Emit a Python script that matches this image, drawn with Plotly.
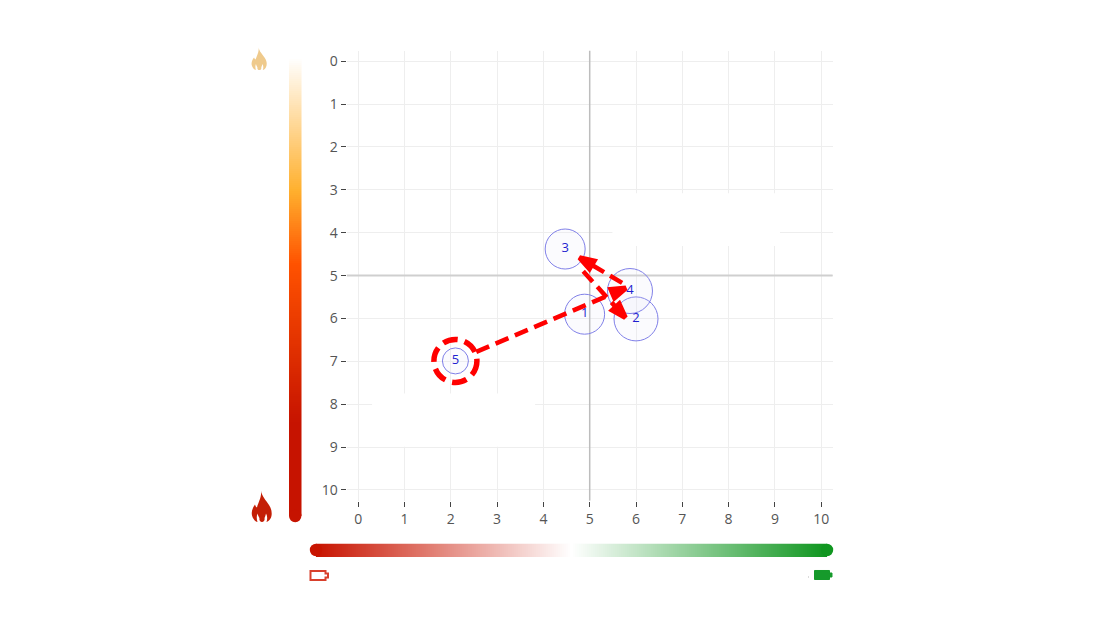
import numpy as np
import plotly.graph_objects as go

# page body has 8px margin, reference coordinates are window pixels
W, H = 1080, 626

punto_labels = ["1", "2", "3", "4", "5"]
punto_x = [4.89, 6.0, 4.47, 5.87, 2.1]
punto_y = [5.9, 6.01, 4.38, 5.36, 6.99]
punto_size = [40, 44, 40, 45, 26]

# arrows: start and tip
arrow_x0 = [2.55, 5.70, 4.86]
arrow_y0 = [6.78, 5.17, 4.9]
arrow_x1 = [5.78, 4.78, 5.77]
arrow_y1 = [5.29, 4.58, 5.98]

tick_vals = list(range(11))

heat_scale = [[0, "#ffffff"], [0.29, "#ffb02e"], [0.45, "#ff5200"], [0.8, "#c61300"], [1, "#c61300"]]
power_scale = [[0, "#c81400"], [0.5, "#ffffff"], [1, "#109620"]]

RED = "#ff0000"
BLUE = "#1f1fd0"


def px(x):
    return (x - 8) / W


def py(y):
    return 1 - (y - 8) / H


def path_from(cmds):
    out = []
    for c in cmds:
        if isinstance(c, str):
            out.append(c)
        else:
            out.append(f"{px(c[0]):.5f},{py(c[1]):.5f}")
    return " ".join(out)


def flame(x0, y0, sx, sy):
    def p(x, y):
        return (x0 + x * sx, y0 + y * sy)

    body = [
        "M", p(10, 0.5),
        "C", p(11, 7), p(15, 10), p(18, 15),
        "C", p(21, 19), p(21.5, 25), p(19.5, 28.5),
        "C", p(18.5, 30.5), p(17, 31.5), p(15.5, 32),
        "C", p(16.5, 29), p(16.5, 26), p(15, 23.5),
        "C", p(14.5, 26), p(14, 27), p(13.5, 28),
        "C", p(14, 30), p(13, 32), p(11, 32),
        "C", p(9, 32), p(8, 30), p(8.5, 28),
        "C", p(7.8, 27), p(7, 25.5), p(6.5, 23.5),
        "C", p(5.5, 26), p(5.5, 29), p(6.5, 32),
        "C", p(4, 31.5), p(2, 29), p(1, 25.5),
        "C", p(0, 21), p(2, 17.5), p(4, 14.5),
        "C", p(4.5, 16), p(5, 17), p(6, 17.5),
        "C", p(7, 13), p(11, 7), p(10, 0.5),
        "Z",
    ]
    return path_from(body)


def battery(x0, y0):
    return path_from([
        "M", (x0, y0), "L", (x0 + 15, y0), "L", (x0 + 15, y0 + 2.5),
        "L", (x0 + 17.5, y0 + 2.5), "L", (x0 + 17.5, y0 + 6.5),
        "L", (x0 + 15, y0 + 6.5), "L", (x0 + 15, y0 + 9), "L", (x0, y0 + 9), "Z",
    ])


def box(x0, y0, x1, y1, **kw):
    return dict(type="rect", xref="paper", yref="paper",
                x0=px(x0), x1=px(x1), y0=py(y0), y1=py(y1), **kw)


def dot(cx, cy, r, color):
    return dict(type="circle", xref="paper", yref="paper",
                x0=px(cx - r), x1=px(cx + r), y0=py(cy - r), y1=py(cy + r),
                fillcolor=color, line_width=0, layer="above")


fig = go.Figure()

fig.add_trace(go.Scatter(
    x=punto_x, y=punto_y, text=punto_labels,
    mode="markers+text", textposition="middle center",
    textfont=dict(color=BLUE, size=13),
    marker=dict(size=punto_size, color="rgba(225,225,250,0.12)", opacity=1,
                line=dict(color="#8080e8", width=1)),
    hoverinfo="skip", showlegend=False, cliponaxis=False,
))

for x0, y0, x1, y1 in zip(arrow_x0, arrow_y0, arrow_x1, arrow_y1):
    fig.add_trace(go.Scatter(
        x=[x0, x1], y=[y0, y1], mode="lines+markers",
        line=dict(color=RED, width=4.5, dash="14px,7px"),
        marker=dict(symbol="arrow", angleref="previous", size=[0, 15], color=RED, opacity=1,
                    line=dict(color=RED, width=5)),
        hoverinfo="skip", showlegend=False,
    ))

# gradient bars
fig.add_trace(go.Heatmap(
    z=np.linspace(0, 1, 230).reshape(-1, 1), colorscale=heat_scale, zmin=0, zmax=1,
    showscale=False, hoverinfo="skip", xaxis="x2", yaxis="y2",
))
fig.add_trace(go.Heatmap(
    z=np.linspace(0, 1, 255).reshape(1, -1), colorscale=power_scale, zmin=0, zmax=1,
    showscale=False, hoverinfo="skip", xaxis="x3", yaxis="y3",
))

shapes = [
    # blank patches over the grid
    dict(type="rect", xref="x", yref="y", x0=5.49, x1=9.11, y0=3.08, y1=4.31,
         fillcolor="white", line_width=0, layer="between"),
    dict(type="rect", xref="x", yref="y", x0=0.30, x1=3.82, y0=7.75, y1=8.99,
         fillcolor="white", line_width=0, layer="between"),
    # centre lines
    dict(type="line", xref="x", yref="y", x0=5, x1=5, y0=-0.25, y1=10.25,
         line=dict(color="#bdbdbd", width=1.5), layer="between"),
    dict(type="line", xref="x", yref="y", x0=-0.25, x1=10.25, y0=5, y1=5,
         line=dict(color="#cfcfcf", width=2), layer="between"),
    # selected point ring
    dict(type="circle", xref="x", yref="y", xsizemode="pixel", ysizemode="pixel",
         xanchor=punto_x[4], yanchor=punto_y[4], x0=-21.5, x1=21.5, y0=-21.5, y1=21.5,
         line=dict(color=RED, width=5.5, dash="15px,7px"), layer="above"),
    # bar end caps
    dot(295.2, 516, 6.2, "#c61300"),
    dot(316, 550, 6.2, "#c81400"),
    dot(827, 550, 6.2, "#109620"),
    # icons
    dict(type="path", xref="paper", yref="paper", path=flame(251, 490, 1, 1),
         fillcolor="#c41f06", line_width=0),
    dict(type="path", xref="paper", yref="paper", path=flame(251, 47, 0.76, 0.72),
         fillcolor="#efca8c", line_width=0),
    dict(type="path", xref="paper", yref="paper", path=battery(310.5, 571),
         fillcolor="white", line=dict(color="#d8402c", width=2)),
    dict(type="path", xref="paper", yref="paper", path=battery(814.5, 570.5),
         fillcolor="#169a2b", line=dict(color="#169a2b", width=1)),
    box(808, 576, 808.7, 578, fillcolor="#cccccc", line_width=0),
]

hidden = dict(visible=False, fixedrange=True)

fig.update_layout(
    width=W, height=H,
    margin=dict(l=0, r=0, t=0, b=0),
    paper_bgcolor="white", plot_bgcolor="white",
    font=dict(family="Open Sans", color="#555555", size=14),
    showlegend=False,
    shapes=shapes,
    xaxis=dict(
        domain=[px(346.6), px(832.8)], range=[-0.25, 10.25],
        tickvals=tick_vals, ticks="outside", ticklen=5, tickcolor="#444444",
        gridcolor="#eeeeee", zeroline=False, showline=False, anchor="y",
    ),
    yaxis=dict(
        domain=[py(500.7), py(50.5)], range=[10.25, -0.25],
        tickvals=tick_vals, ticks="outside", ticklen=5, tickcolor="#444444",
        gridcolor="#eeeeee", zeroline=False, showline=False, anchor="x",
    ),
    xaxis2=dict(domain=[px(289), px(301.5)], anchor="y2", **hidden),
    yaxis2=dict(domain=[py(516), py(57)], anchor="x2", autorange="reversed", **hidden),
    xaxis3=dict(domain=[px(316), px(827)], anchor="y3", **hidden),
    yaxis3=dict(domain=[py(557), py(543.5)], anchor="x3", **hidden),
)

fig.write_html("out.html")
